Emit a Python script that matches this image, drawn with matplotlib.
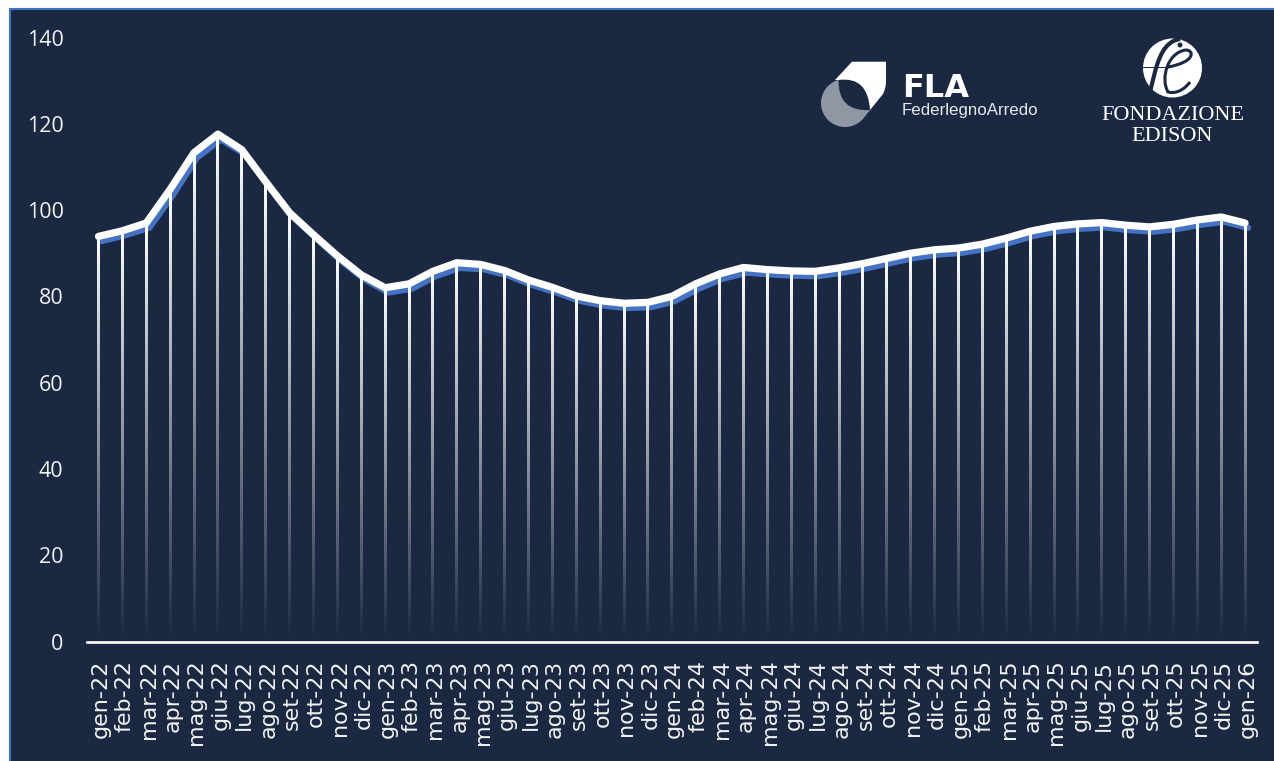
import matplotlib
matplotlib.use('Agg')
import matplotlib.pyplot as plt
import numpy as np
from matplotlib.patches import Circle, PathPatch, Polygon, Rectangle
from matplotlib.path import Path
from matplotlib.transforms import ScaledTranslation

months = ['gen-22', 'feb-22', 'mar-22', 'apr-22', 'mag-22', 'giu-22', 'lug-22', 'ago-22', 'set-22', 'ott-22', 'nov-22', 'dic-22',
          'gen-23', 'feb-23', 'mar-23', 'apr-23', 'mag-23', 'giu-23', 'lug-23', 'ago-23', 'set-23', 'ott-23', 'nov-23', 'dic-23',
          'gen-24', 'feb-24', 'mar-24', 'apr-24', 'mag-24', 'giu-24', 'lug-24', 'ago-24', 'set-24', 'ott-24', 'nov-24', 'dic-24',
          'gen-25', 'feb-25', 'mar-25', 'apr-25', 'mag-25', 'giu-25', 'lug-25', 'ago-25', 'set-25', 'ott-25', 'nov-25', 'dic-25',
          'gen-26']
white_values = [93.9, 95.2, 97.0, 104.8, 113.3, 117.6, 114.0, 106.6, 99.4, 94.3, 89.4, 85.0,
                82.0, 82.9, 85.8, 87.8, 87.4, 86.0, 83.8, 82.1, 80.1, 79.0, 78.4, 78.6,
                80.0, 82.9, 85.2, 86.7, 86.2, 85.9, 85.8, 86.6, 87.6, 88.8, 90.0, 90.8,
                91.2, 92.1, 93.5, 95.1, 96.2, 96.8, 97.1, 96.5, 96.1, 96.7, 97.7, 98.4, 97.0]
blue_values = [92.8, 94.2, 95.9, 103.6, 112.2, 116.4, 113.0, 105.6, 98.5, 93.4, 88.4, 84.0,
               80.9, 81.8, 84.7, 86.6, 86.3, 84.9, 82.7, 81.0, 79.0, 77.9, 77.3, 77.5,
               78.9, 81.8, 84.1, 85.5, 85.1, 84.8, 84.7, 85.5, 86.5, 87.7, 88.9, 89.7,
               90.1, 91.0, 92.4, 94.0, 95.1, 95.7, 96.0, 95.4, 95.0, 95.6, 96.6, 97.3, 95.9]
y_ticks = [0, 20, 40, 60, 80, 100, 120, 140]

BG = '#1B2841'
BLUE = '#4472C4'
W, H = 1274, 761

fig = plt.figure(figsize=(12.74, 7.61), dpi=100, facecolor='white')

# panel with the blue frame
panel = Rectangle((10 / W, -0.01), 1.02, 1.01 - 9 / H, transform=fig.transFigure,
                  facecolor=BG, edgecolor=BLUE, linewidth=1.5, zorder=-5)
fig.add_artist(panel)

ax = fig.add_axes([86.5 / W, (H - 641.5) / H, 1170.5 / W, 604 / H])
ax.patch.set_alpha(0)
x = np.arange(len(months))

# blue series sits a little to the right of the white one
shift = ax.transData + ScaledTranslation(3 / 100, 0, fig.dpi_scale_trans)
ax.plot(x, blue_values, color=BLUE, lw=4.6, solid_capstyle='round', solid_joinstyle='round',
        transform=shift, zorder=1)

# stems fade out from top to bottom
ramp = np.zeros((256, 1, 4))
ramp[:, :, :3] = 1
ramp[:, 0, 3] = np.linspace(1, 0, 256)
for xi, v in zip(x, white_values):
    ax.imshow(ramp, extent=[xi - 0.06, xi + 0.06, 0, v], aspect='auto', interpolation='bilinear', zorder=2)

ax.plot(x, white_values, color='white', lw=5.2, solid_capstyle='round', solid_joinstyle='round', zorder=3)

ax.set_xlim(-0.5, len(months) - 0.5)
ax.set_ylim(0, 140)
for side in ['top', 'right', 'left']:
    ax.spines[side].set_visible(False)
ax.spines['bottom'].set_color('white')
ax.spines['bottom'].set_linewidth(1.9)
ax.spines['bottom'].set_zorder(5)
ax.set_xticks(x)
ax.set_xticklabels(months, rotation=90, family='DejaVu Sans', fontsize=16, color='#F2F2F2')
ax.set_yticks(y_ticks)
ax.set_yticklabels([str(t) for t in y_ticks], family='Open Sans', fontsize=15.5, color='#F2F2F2')
ax.tick_params(axis='x', length=0, pad=13)
ax.tick_params(axis='y', length=0, pad=16.5)
label_shift = ScaledTranslation(2.5 / 100, 0, fig.dpi_scale_trans)
for lab in ax.get_xticklabels():
    lab.set_transform(lab.get_transform() + label_shift)

# logos, drawn in pixel coordinates
logo = fig.add_axes([0, 0, 1, 1])
logo.set_xlim(0, W)
logo.set_ylim(H, 0)
logo.axis('off')

C3, C4, L, M = Path.CURVE3, Path.CURVE4, Path.LINETO, Path.MOVETO
GREY = '#8F97A5'
logo.add_patch(Circle((845, 103), 24, facecolor=GREY, edgecolor='none'))
logo.add_patch(Polygon([(838, 80), (870, 110), (866, 115), (860, 121), (845, 127)], facecolor=GREY, edgecolor='none'))
logo.add_patch(PathPatch(Path([(835, 80), (852, 61.7), (886, 61.7), (886, 82), (886, 88), (883, 94), (866, 115), (870, 110), (838.5, 80), (835, 80)],
                              [M, L, L, L, C3, C3, L, L, L, Path.CLOSEPOLY]),
                         facecolor='white', edgecolor='none'))
logo.add_patch(PathPatch(Path([(838.5, 80), (868, 76), (870, 110), (838, 112), (838.5, 80), (838.5, 80)],
                              [M, C3, C3, C3, C3, Path.CLOSEPOLY]),
                         facecolor=BG, edgecolor='none'))
logo.text(902, 97, 'FLA', family='DejaVu Sans', weight='bold', fontsize=23, color='white', va='baseline')
logo.text(902, 115, 'FederlegnoArredo', family='Liberation Sans', fontsize=12.2, color='#E6E8EC', va='baseline')

logo.add_patch(Circle((1172.5, 68), 29.5, facecolor='white', edgecolor='none'))
logo.add_patch(PathPatch(Path([(1180, 39), (1160, 42), (1156, 68), (1150, 92)], [M, C4, C4, C4]),
                         facecolor='none', edgecolor=BG, lw=3))
logo.add_patch(Circle((1180, 45), 2.5, facecolor=BG, edgecolor='none'))
logo.add_patch(PathPatch(Path([(1142, 67), (1170, 67)], [M, L]), facecolor='none', edgecolor=BG, lw=0.7))
logo.add_patch(PathPatch(Path([(1168, 67), (1196, 62), (1194, 50), (1186, 50), (1168, 52), (1160, 78), (1168, 92), (1176, 94), (1184, 90), (1190, 82)],
                              [M, C4, C4, C4, C4, C4, C4, C4, C4, C4]),
                         facecolor='none', edgecolor=BG, lw=2.2))
logo.text(1172.5, 120, 'FONDAZIONE', family='Liberation Serif', fontsize=16, color='white', ha='center', va='baseline')
logo.text(1172.5, 141, 'EDISON', family='Liberation Serif', fontsize=16, color='white', ha='center', va='baseline')

fig.savefig('out.png', dpi=100, facecolor=fig.get_facecolor())
